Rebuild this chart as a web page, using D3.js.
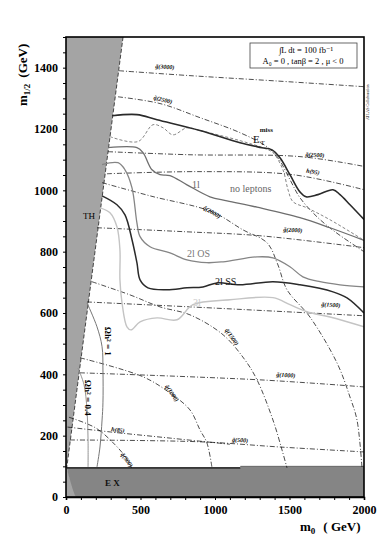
<!DOCTYPE html>
<html lang="en">
<head>
<meta charset="UTF-8">
<title>mSUGRA reach</title>
<script src="https://cdn.jsdelivr.net/npm/d3@7"></script>
<style>
  html, body { margin: 0; padding: 0; background: #fff; }
  svg { display: block; font-family: "Liberation Serif", "DejaVu Serif", serif; }
  .iso { fill: none; stroke: #000; stroke-width: 0.7; stroke-dasharray: 5,2,1,2; }
  .isolab { font-size: 6px; font-weight: bold; font-style: italic; }
</style>
</head>
<body>
<script>
// ---- data (m0, m1/2) in GeV ----
const thRegion = [[0,0],[0,1500],[383,1500],[5,95],[68,0]];
const exRegion = [[5,95],[15,75],[27,55],[45,25],[60,5],[68,0],[2000,0],[2000,100],[1170,100],[1170,95]];

const etMiss = [[309,1243],[476,1247],[611,1230],[899,1195],[1168,1155],[1315,1139],[1383,1132],[1436,1106],[1503,1051],[1570,995],[1611,979],[1691,986],[1792,1002],[1839,986],[1906,953],[2000,905]];
const noLeptons = [[282,1139],[476,1139],[517,1123],[577,1067],[631,1051],[698,1048],[812,1018],[966,979],[1081,966],[1282,945],[1570,911],[1772,878],[2000,837]];
const etDashed = [[295,1175],[483,1159],[584,1214],[651,1204],[718,1181],[812,1204],[899,1195],[1168,1162],[1336,1136],[1389,1123],[1456,1067],[1490,1002],[1523,963],[1617,943],[1772,904],[2000,837]];
const twoLOS = [[242,1084],[349,1090],[396,1067],[443,1008],[476,894],[497,849],[564,816],[698,796],[812,773],[946,764],[1054,767],[1282,783],[1389,780],[1503,751],[1590,718],[1705,702],[1839,692],[2000,685]];
const twoLSS = [[242,982],[342,953],[396,920],[443,839],[476,764],[497,708],[550,682],[678,676],[812,682],[919,685],[1013,698],[1168,692],[1389,702],[1570,692],[1792,669],[1886,649],[2000,600]];
const threeL = [[228,943],[295,927],[342,881],[362,806],[362,708],[376,633],[409,555],[436,545],[497,571],[611,584],[745,578],[852,627],[1101,643],[1389,650],[1503,627],[1617,604],[1772,587],[2000,555]];
const omega1 = [[141,633],[208,555],[242,490],[248,414],[248,307],[242,251],[228,163],[208,98]];
const omega04 = [[81,420],[121,366],[141,284],[148,186],[148,98]];

// iso-mass contours
const gl3000 = [[356,1390],[832,1374],[1400,1357],[2000,1338]];
const gl2500 = [[282,1126],[832,1116],[1570,1110],[2000,1078]];
const gl2000 = [[208,878],[800,865],[1300,852],[2000,813]];
const gl1500 = [[141,636],[832,620],[2000,591]];
const gl1000 = [[94,405],[1302,382],[2000,359]];
const gl500 = [[27,186],[899,180],[1436,163],[2000,147]];
const sq2500 = [[349,1305],[631,1283],[899,1237],[1168,1188],[1349,1142],[1423,1106],[1503,1035],[1570,976],[1684,914],[1805,865],[2000,800]];
const sq2000 = [[242,1025],[564,982],[980,930],[1188,871],[1349,829],[1420,760],[1483,676],[1637,587],[1819,437],[1906,326],[1953,251],[1986,98]];
const sq1500 = [[174,702],[430,659],[631,620],[832,594],[1054,529],[1201,447],[1282,382],[1389,251],[1450,153],[1483,95]];
const sq1000 = [[94,454],[517,392],[698,339],[832,284],[899,219],[946,176],[980,95]];
const sq500 = [[20,260],[200,225],[330,170],[400,130],[440,95]];
const h95 = [[275,1054],[899,1061],[1523,1051],[2000,1002]];
const h85 = [[10,228],[300,212],[700,192],[1100,172]];

const isoLines = [gl3000, gl2500, gl2000, gl1500, gl1000, gl500, sq2500, sq2000, sq1500, sq1000, sq500, h95, h85];
const isoLabels = [
  ["g\u0303(3000)", 664, 1403, 3], ["q\u0303(2500)", 651, 1296, 15], ["g\u0303(2500)", 1671, 1116, 3],
  ["h(95)", 1658, 1061, 10], ["q\u0303(2000)", 980, 930, 30], ["g\u0303(2000)", 1523, 871, 3],
  ["g\u0303(1500)", 1778, 627, 3], ["q\u0303(1500)", 1114, 522, 55], ["g\u0303(1000)", 1476, 398, 3],
  ["q\u0303(1000)", 711, 339, 55], ["h(85)", 349, 219, 8], ["q\u0303(500)", 409, 121, 55], ["g\u0303(500)", 1168, 186, 3]
];

const xTicks = d3.range(0, 2001, 100);
const yTicks = d3.range(0, 1501, 50);

// ---- chart ----
const W = 382, H = 553;
const x = d3.scaleLinear().domain([0, 2000]).range([66, 364]);
const y = d3.scaleLinear().domain([0, 1500]).range([497, 37]);

const svg = d3.select("body").append("svg").attr("width", W).attr("height", H);

svg.append("clipPath").attr("id", "clip")
  .append("rect").attr("x", 66).attr("y", 37).attr("width", 298).attr("height", 460);

const g = svg.append("g").attr("clip-path", "url(#clip)");
const line = d3.line().x(d => x(d[0])).y(d => y(d[1]));
const cr = d3.line().x(d => x(d[0])).y(d => y(d[1])).curve(d3.curveCatmullRom.alpha(0.5));

g.append("path").datum(thRegion).attr("d", line).attr("fill", "#a4a4a4");
g.append("path").datum(exRegion).attr("d", line).attr("fill", "#858585");
g.append("path").datum([[383,1500],[5,95]]).attr("d", line)
  .attr("stroke", "#222").attr("stroke-width", 0.8).attr("stroke-dasharray", "4,2").attr("fill", "none");
g.append("path").datum([[5,95],[1170,95]]).attr("d", line).attr("stroke", "#000").attr("stroke-width", 1.2).attr("fill", "none");
g.append("path").datum([[1170,100],[2000,100]]).attr("d", line).attr("stroke", "#555").attr("stroke-width", 0.8).attr("fill", "none");

g.selectAll(".iso").data(isoLines).join("path").attr("class", "iso").attr("d", cr);

// reach curves
const curves = [
  { d: etDashed, c: "#777", w: 0.9, dash: "3,2" },
  { d: omega04, c: "#888", w: 0.9, dash: null },
  { d: omega1, c: "#777", w: 1.0, dash: null },
  { d: threeL, c: "#c4c4c4", w: 1.4, dash: null },
  { d: twoLOS, c: "#858585", w: 1.3, dash: null },
  { d: noLeptons, c: "#6e6e6e", w: 1.3, dash: null },
  { d: twoLSS, c: "#2a2a2a", w: 1.5, dash: null },
  { d: etMiss, c: "#2a2a2a", w: 1.6, dash: null }
];
g.selectAll(".reach").data(curves).join("path").attr("class", "reach")
  .attr("d", c => cr(c.d)).attr("fill", "none")
  .attr("stroke", c => c.c).attr("stroke-width", c => c.w)
  .attr("stroke-dasharray", c => c.dash);

// iso labels
g.selectAll(".isolab").data(isoLabels).join("text").attr("class", "isolab")
  .attr("transform", d => `translate(${x(d[1])},${y(d[2])}) rotate(${d[3]})`)
  .attr("text-anchor", "middle").attr("dy", "0.35em").text(d => d[0]);

// region / curve labels
function lab(txt, m0, m12, size, color) {
  return svg.append("text").attr("x", x(m0)).attr("y", y(m12))
    .attr("font-size", size).attr("fill", color).text(txt);
}
lab("TH", 114, 907, 9, "#000");
lab("E X", 262, 36, 9, "#111").attr("font-weight", "bold");
lab("1l", 845, 1008, 10, "#666");
lab("no leptons", 1101, 995, 10, "#666");
lab("2l OS", 812, 783, 10, "#777");
lab("2l SS", 1000, 692, 10, "#111");
lab("3l", 852, 623, 10, "#c8c8c8");
lab("E", 1255, 1155, 11, "#111");
lab("T", 1305, 1147, 7, "#111");
lab("miss", 1300, 1190, 7, "#111").attr("font-weight", "bold");

svg.append("text").attr("transform", `translate(${x(262)},${y(555)}) rotate(90)`)
  .attr("font-size", 9).attr("font-weight", "bold").text("\u03A9h\u00B2 = 1");
svg.append("text").attr("transform", `translate(${x(128)},${y(382)}) rotate(90)`)
  .attr("font-size", 9).attr("font-weight", "bold").text("\u03A9h\u00B2 = 0.4");

// frame
svg.append("rect").attr("x", 66).attr("y", 37).attr("width", 298).attr("height", 460)
  .attr("fill", "none").attr("stroke", "#000").attr("stroke-width", 1.6);

// axes
const xAxis = d3.axisBottom(x).tickValues(xTicks).tickSize(3)
  .tickFormat(d => d % 500 === 0 ? d : "");
const gx = svg.append("g").attr("transform", "translate(0,497)").call(xAxis);
gx.select(".domain").attr("stroke-width", 1.6);
gx.selectAll("text").attr("font-size", 12).attr("font-weight", "bold")
  .attr("font-family", "Liberation Serif").attr("dy", "0.9em");

const yAxis = d3.axisLeft(y).tickValues(yTicks).tickSize(3)
  .tickFormat(d => d % 200 === 0 && d < 1500 ? d : "");
const gy = svg.append("g").attr("transform", "translate(66,0)").call(yAxis);
gy.select(".domain").remove();
gy.selectAll("text").attr("font-size", 12).attr("font-weight", "bold")
  .attr("font-family", "Liberation Serif").attr("x", -8);

// axis titles
const yt = svg.append("text").attr("transform", "translate(27,106) rotate(-90)")
  .attr("font-size", 13).attr("font-weight", "bold");
yt.append("tspan").text("m");
yt.append("tspan").attr("font-size", 9).attr("dy", 3).text("1/2");
yt.append("tspan").attr("dy", -3).attr("dx", 6).text("(GeV)");

const xt = svg.append("text").attr("x", 300).attr("y", 531)
  .attr("font-size", 13).attr("font-weight", "bold");
xt.append("tspan").text("m");
xt.append("tspan").attr("font-size", 9).attr("dy", 3).text("0");
xt.append("tspan").attr("dy", -3).attr("dx", 8).text("( GeV)");

// info box
svg.append("rect").attr("x", 250).attr("y", 43).attr("width", 107).attr("height", 25)
  .attr("fill", "#fff").attr("stroke", "#444").attr("stroke-width", 0.8);
svg.append("text").attr("x", 306).attr("y", 53).attr("text-anchor", "middle").attr("font-size", 8.5)
  .text("\u222BL dt = 100 fb\u207B\u00B9");
svg.append("text").attr("x", 303).attr("y", 64).attr("text-anchor", "middle").attr("font-size", 8.5)
  .text("A\u2080 = 0 ,  tan\u03B2 = 2 ,  \u03BC < 0");

svg.append("text").attr("transform", "translate(369,120) rotate(-90)")
  .attr("font-size", 4).text("ATLAS Collaboration");
</script>
</body>
</html>
